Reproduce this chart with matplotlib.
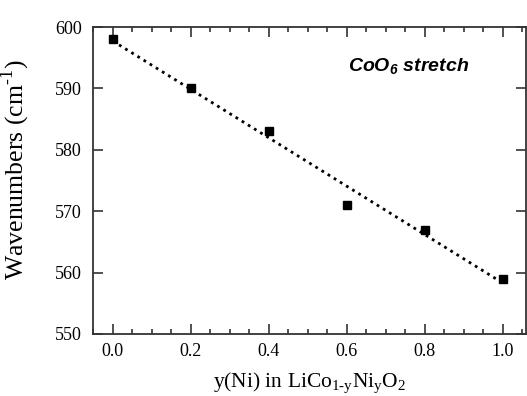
import numpy as np
import matplotlib.pyplot as plt
from matplotlib.ticker import MultipleLocator

# composition y(Ni) and CoO6 stretch position
y_ni = [0.0, 0.2, 0.4, 0.6, 0.8, 1.0]
wavenumbers = [598, 590, 583, 571, 567, 559]

plt.rcParams['font.family'] = ['Liberation Serif', 'DejaVu Serif']
plt.rcParams['mathtext.fontset'] = 'custom'
plt.rcParams['mathtext.rm'] = 'Liberation Serif'
plt.rcParams['mathtext.sf'] = 'Liberation Sans:bold:italic'

fig = plt.figure(figsize=(5.27, 3.96), dpi=100)
ax = fig.add_axes([0.1765, 0.1566, 0.8215, 0.7752])

# linear fit through the points
coef = np.polyfit(y_ni, wavenumbers, 1)
xfit = np.array([y_ni[0], y_ni[-1]])
ax.plot(xfit, np.polyval(coef, xfit), color='black', linestyle=(0, (1, 1.6)), linewidth=2)
ax.plot(y_ni, wavenumbers, 's', color='black', markersize=6)

ax.set_xlim(-0.051, 1.059)
ax.set_ylim(550, 600)
ax.xaxis.set_major_locator(MultipleLocator(0.2))
ax.xaxis.set_minor_locator(MultipleLocator(0.05))
ax.yaxis.set_major_locator(MultipleLocator(10))
ax.xaxis.set_major_formatter(plt.FormatStrFormatter('%.1f'))

ax.tick_params(which='both', direction='in', top=True, right=True, labelsize=13, width=1.2, colors='#333333', labelcolor='black')
ax.tick_params(which='major', length=7)
ax.tick_params(which='minor', length=3.5)
ax.tick_params(axis='y', pad=8)
ax.tick_params(axis='x', pad=6.5)
for s in ax.spines.values():
    s.set_linewidth(1.3)
    s.set_color('#333333')

ax.set_xlabel(r'y(Ni) in LiCo$_{\mathrm{1\text{-}y}}$Ni$_{\mathrm{y}}$O$_{\mathrm{2}}$', fontsize=15.5)
ax.set_ylabel(r'Wavenumbers (cm$^{\mathrm{\text{-}1}}$)', fontsize=18.5)
ax.xaxis.set_label_coords(0.5, -0.12)
ax.yaxis.set_label_coords(-0.141, 0.535)

ax.text(0.759, 592.7, r'CoO$_{\mathsf{6}}$ stretch', fontsize=14, fontweight='bold', style='italic',
        family='Liberation Sans', ha='center', va='baseline')

fig.savefig('out.png', dpi=100)
